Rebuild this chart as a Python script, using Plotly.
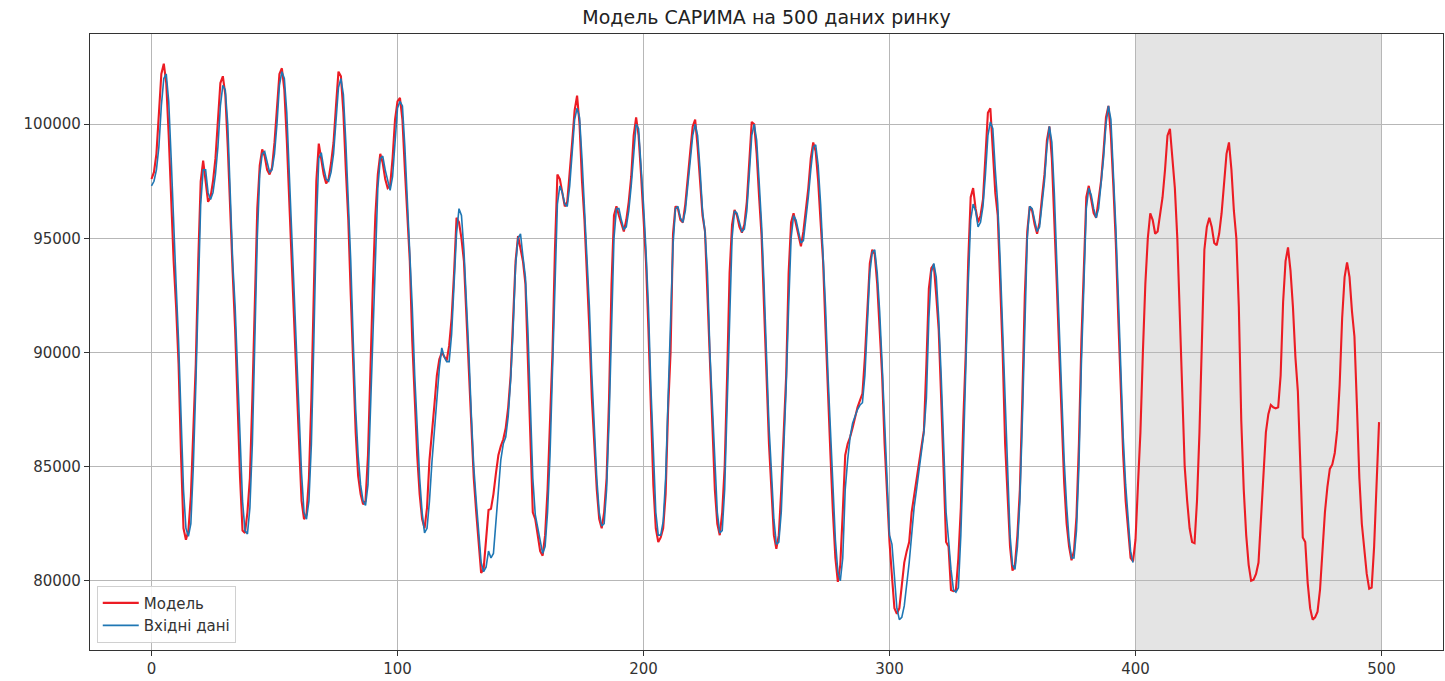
import plotly.graph_objects as go

# SARIMA fitted/forecast values (500 hourly steps) and observed market data (first 400 steps)
MODEL_VALUES = [
    97600, 97900, 98700, 100500, 102200, 102650, 101800, 99500, 96500, 94000,
    92000, 89500, 85500, 82300, 81800, 82200, 83700, 86500, 89500, 94000,
    97500, 98400, 97500, 96600, 96800, 97500, 98500, 100300, 101800, 102100,
    101300, 99000, 95800, 93500, 91000, 87500, 84500, 82200, 82100, 83000,
    84500, 88000, 92700, 96300, 98200, 98900, 98600, 98000, 97800, 98100,
    99200, 100700, 102200, 102450, 101500, 99300, 96500, 94000, 91200, 88200,
    86000, 83500, 82700, 82900, 84500, 88000, 93500, 97500, 99150, 98500,
    97800, 97400, 97600, 98300, 99200, 100800, 102300, 102100, 100500, 98000,
    95800, 92500, 89000, 86500, 84600, 83800, 83350, 83500, 85500, 89500,
    93000, 96000, 97800, 98700, 98300, 97600, 97200, 97300, 98500, 100200,
    101000, 101150, 100200, 98000, 96000, 94000, 90500, 88000, 85500, 83800,
    82700, 82300, 83200, 85300, 86700, 87700, 89000, 89700, 90000, 89800,
    89650, 90300, 91500, 93500, 95900, 95700, 95000, 94000, 91500, 89000,
    86500, 84500, 83000, 81500, 80350, 80500, 82000, 83100, 83150, 83800,
    84700, 85500, 85900, 86200, 86700, 87600, 89000, 91500, 94000, 95100,
    94600, 94000, 93000, 89500, 86000, 83000, 82700, 82000, 81300, 81100,
    82000, 84000, 87000, 90000, 94500, 97800, 97600, 96900, 96400, 96600,
    97800, 99200, 100600, 101250, 100000, 97500, 95800, 93500, 91000, 88000,
    85800, 84000, 82700, 82300, 83000, 84500, 88000, 93000, 96000, 96400,
    96000, 95600, 95300, 95800, 96600, 97700, 99500, 100300, 99500, 97800,
    95800, 94000, 91000, 87500, 84200, 82300, 81700, 81900, 82300, 83800,
    87500, 90000, 95200, 96400, 96300, 95800, 95700, 96500, 97500, 98800,
    99900, 100200, 99000, 97500, 96000, 95300, 92500, 89000, 86500, 84000,
    82500, 82000, 83000, 85000, 89000, 93500, 95600, 96250, 96000, 95500,
    95250, 95600, 96600, 98500, 100100, 100000, 98700, 96800, 95100, 92000,
    88500, 86000, 84000, 82000, 81400, 82000, 84000, 86500, 89000, 93500,
    95700, 96100, 95600, 95000, 94650, 95300, 96200, 97200, 98500, 99200,
    98800, 97500, 95700, 94000, 91000, 88000, 85500, 83000, 81000, 79950,
    80700, 83000, 85500, 86000, 86300, 86700, 87200, 87600, 87900, 88200,
    89800, 92200, 93900, 94500, 94300, 93000, 90800, 89000, 86000, 83500,
    81700, 80200, 78800, 78550, 78800, 79800, 80800, 81300, 81700, 83000,
    83700, 84400, 85000, 85800, 86600, 89500, 92800, 93700, 93850, 92500,
    91000, 88000, 85000, 81700, 81500, 79600, 79550, 79600, 81000, 83200,
    87000, 90000, 94000, 96800, 97200, 96300, 95700, 96000, 96700, 98500,
    100500, 100700, 99000, 97000, 96000, 93000, 90000, 86000, 83500, 81500,
    80450, 80700, 82000, 84000, 88000, 92500, 95300, 96400, 96200, 95600,
    95200, 95700, 96800, 97800, 99300, 99900, 98500, 96000, 93000, 90000,
    87000, 84300, 82500, 81500, 80900, 81300, 82800, 86000, 90500, 94000,
    96800, 97300, 96700, 96100, 95900, 96600, 97500, 98800, 100300, 100800,
    99500, 97300, 94800, 91500, 88000, 85500, 83500, 82200, 81000, 80850,
    81800, 84200, 86500, 90000, 93000, 95000, 96100, 95800, 95200, 95300,
    96000, 96800, 98000, 99500, 99800, 98500, 97200, 95000, 91500, 88300,
    85000, 83500, 82300, 81700, 81650, 83500, 86500, 90500, 94500, 95500,
    95900, 95500, 94800, 94700, 95200, 96100, 97400, 98700, 99200, 98000,
    96200, 95000, 92000, 87000, 84000, 82000, 80700, 80000, 80050, 80300,
    80800, 82700, 84800, 86500, 87300, 87700, 87600, 87550, 87600, 89000,
    92200, 94000, 94600, 93600, 92000, 89800, 88300, 85500, 81900, 81700,
    79900, 78800, 78300, 78400, 78650, 79600, 81500, 83000, 84100, 84900,
    85100, 85600, 86600, 88600, 91500, 93300, 93950, 93300, 91800, 90700,
    87700, 84500, 82500, 81500, 80300, 79650, 79700, 81500, 84000, 86950,
]

INPUT_VALUES = [
    97300, 97500, 98000, 99000, 100800, 102000, 102200, 101000, 98500, 95500,
    93000, 90500, 87500, 84000, 82300, 81950, 82500, 85000, 88500, 92500,
    96500, 98000, 98000, 97000, 96700, 97000, 97800, 99000, 100800, 101700,
    101500, 100000, 97000, 94000, 92000, 89000, 86000, 83500, 82200, 82050,
    83200, 86000, 90500, 95000, 97800, 98700, 98800, 98300, 97900, 98000,
    98700, 100000, 101700, 102300, 102000, 100500, 97800, 95000, 92500, 89500,
    87000, 84700, 83000, 82700, 83500, 86000, 90500, 95500, 98500, 98750,
    98100, 97600, 97500, 97900, 98700, 100000, 101600, 102000, 101300, 99200,
    96800, 94000, 90500, 87500, 85500, 84200, 83500, 83300, 84200, 87500,
    91500, 94800, 97200, 98500, 98600, 98000, 97500, 97100, 97700, 99300,
    100700, 101000, 100800, 99000, 96800, 94800, 92000, 89000, 86500, 84500,
    83000, 82100, 82300, 83500, 85200, 86700, 88000, 89300, 90200, 89800,
    89600, 89600, 90800, 92800, 95200, 96300, 96000, 94500, 92500, 90000,
    87300, 85000, 83500, 82000, 80800, 80400, 80600, 81300, 81000, 81200,
    82500, 84000, 85300, 86000, 86300, 87200, 88800, 91000, 93800, 95000,
    95200, 94200, 93300, 91000, 87500, 84500, 82900, 82300, 81700, 81200,
    81500, 83000, 85500, 89000, 93000, 96500, 97300, 97000, 96500, 96400,
    97300, 98800, 100200, 100700, 100300, 98500, 96200, 94500, 92000, 89000,
    86500, 84500, 83000, 82400, 82500, 84000, 87000, 91500, 95000, 96300,
    96300, 95800, 95400, 95500, 96200, 97300, 98800, 100000, 99800, 98300,
    96500, 94500, 92000, 88500, 85500, 83000, 82000, 82000, 82600, 84500,
    88000, 91500, 94700, 96300, 96400, 95900, 95700, 96200, 97200, 98300,
    99500, 100000, 99500, 98000, 96200, 95300, 93500, 90000, 87500, 84800,
    83000, 82100, 82200, 84000, 87500, 92000, 95000, 96200, 96100, 95700,
    95300, 95400, 96200, 97800, 99500, 100000, 99300, 97500, 95600, 93000,
    89500, 86800, 84800, 82700, 81600, 81700, 83000, 85500, 88500, 92000,
    95000, 96000, 95800, 95300, 94800, 94900, 95800, 96800, 98000, 99000,
    99100, 98200, 96500, 94500, 92000, 89000, 86500, 84000, 81800, 80400,
    80000, 81000, 84000, 85300, 86300, 86900, 87200, 87500, 87700, 87800,
    89000, 91500, 93500, 94400, 94500, 93500, 91800, 89500, 87000, 84500,
    82000, 81600, 80000, 78800, 78300, 78400, 78900, 79800, 80800, 82000,
    83200, 84000, 84800, 85700, 86500, 88000, 91500, 93500, 93900, 93300,
    91500, 89000, 86000, 83000, 81800, 80500, 79600, 79500, 79700, 82000,
    85500, 89500, 93000, 95800, 96500, 96200, 95500, 95700, 96400, 97800,
    99500, 100100, 99800, 98000, 96500, 94000, 91000, 87500, 84500, 82000,
    80700, 80500, 81500, 83500, 87000, 91500, 95000, 96400, 96300, 95800,
    95300, 95500, 96500, 97500, 99000, 99900, 99200, 97000, 94000, 91000,
    88000, 85300, 83300, 81800, 81000, 81000, 82200, 85000, 89500, 93500,
    96300, 97200, 96900, 96300, 95900, 96300, 97300, 98500, 100000, 100800,
    100200, 98000, 95500, 92500, 89000, 86300, 84200, 82800, 81300, 80800,
]

X_TICKS = [0, 100, 200, 300, 400, 500]
Y_TICKS = [80000, 85000, 90000, 95000, 100000]
FORECAST_START, FORECAST_END = 400, 500

TITLE = "Модель САРИМА на 500 даних ринку"
MODEL_NAME = "Модель"
INPUT_NAME = "Вхідні дані"

FONT = "DejaVu Sans, Verdana, sans-serif"

fig = go.Figure()

fig.add_trace(go.Scatter(
    x=list(range(len(MODEL_VALUES))), y=MODEL_VALUES, mode="lines",
    name=MODEL_NAME, line=dict(color="#ec1c24", width=2.1),
))
fig.add_trace(go.Scatter(
    x=list(range(len(INPUT_VALUES))), y=INPUT_VALUES, mode="lines",
    name=INPUT_NAME, line=dict(color="#1f77b4", width=1.6),
))

# shaded forecast horizon
fig.add_shape(
    type="rect", xref="x", yref="paper",
    x0=FORECAST_START, x1=FORECAST_END, y0=0, y1=1,
    fillcolor="#e4e4e4", line=dict(width=0), layer="below",
)

axis_common = dict(
    showgrid=True, gridcolor="#b7b7b7", gridwidth=1,
    zeroline=False, showline=True, linecolor="#333333", linewidth=1.3,
    mirror=True, ticks="outside", ticklen=5, tickcolor="#333333",
    tickfont=dict(family=FONT, size=15, color="#333333"),
    tickformat="d",
)

fig.update_xaxes(range=[-25, 525], tickvals=X_TICKS, **axis_common)
fig.update_yaxes(range=[76970, 103950], tickvals=Y_TICKS, **axis_common)

fig.update_layout(
    width=1445, height=681,
    margin=dict(l=90, r=2, t=34, b=31),
    paper_bgcolor="white", plot_bgcolor="white",
    title=dict(
        text=TITLE, x=0.5, xref="paper", xanchor="center",
        y=0.975, yanchor="middle",
        font=dict(family=FONT, size=19, color="#222222"),
    ),
    legend=dict(
        x=0.005, y=0.012, xanchor="left", yanchor="bottom",
        bgcolor="rgba(255,255,255,0.85)", bordercolor="#d0d0d0", borderwidth=1,
        font=dict(family=FONT, size=15, color="#333333"),
        tracegroupgap=0, itemwidth=36,
    ),
    showlegend=True,
)

fig.write_html("out.html")
